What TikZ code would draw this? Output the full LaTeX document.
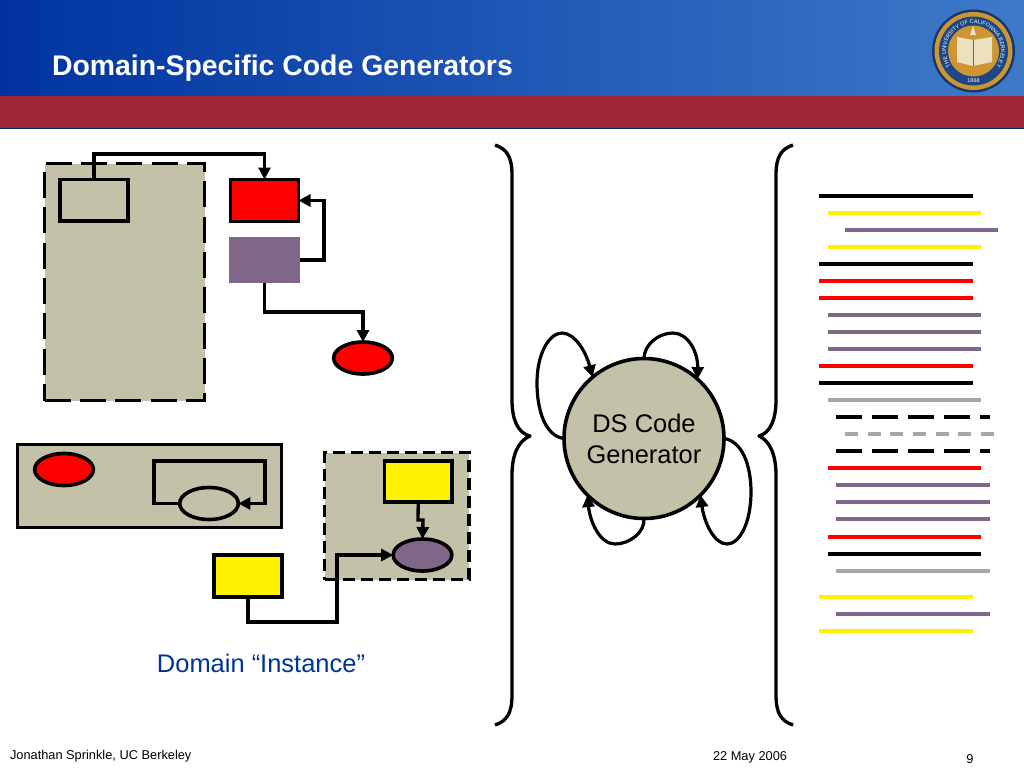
\documentclass[tikz,border=0pt]{standalone}
\usepackage{fontspec}
\setmainfont{Liberation Sans}
\usetikzlibrary{arrows.meta,shapes.geometric,decorations.text}
\definecolor{tanfill}{RGB}{195,193,168}
\definecolor{plum}{RGB}{128,102,136}
\definecolor{linegray}{RGB}{166,166,166}
\definecolor{bardark}{RGB}{160,38,56}
\definecolor{headL}{RGB}{0,51,160}
\definecolor{headR}{RGB}{62,122,200}
\definecolor{titleblue}{RGB}{0,51,153}
\definecolor{sealgold}{RGB}{205,150,50}
\definecolor{sealblue}{RGB}{30,70,130}
\definecolor{sealbook}{RGB}{235,225,190}
\tikzset{
  x=0.75pt,y=-0.75pt,
  every node/.style={inner sep=0pt,outer sep=0pt},
  stroke/.style={draw=black,line width=2.7pt},
  tanbox/.style={stroke,fill=tanfill},
  redbox/.style={stroke,fill=red},
  yellowbox/.style={stroke,fill=yellow},
  plainplum/.style={fill=plum},
  longdash/.style={dash pattern=on 19.5pt off 7pt},
  shortdash/.style={dash pattern=on 9pt off 4.5pt},
  oval/.style={ellipse,stroke,minimum width=44pt,minimum height=24pt},
  conn/.style={draw=black,line width=2.5pt,-{Triangle[length=9pt,width=9pt]}},
  loopconn/.style={draw=black,line width=2.4pt,-{Triangle[length=9pt,width=9pt]}},
  brace/.style={draw=black,line width=2.5pt,line join=round},
  listline/.style={line width=2.5pt},
  biglabel/.style={font=\fontsize{19.1}{23.2}\selectfont},
  footer/.style={font=\fontsize{9.6}{12}\selectfont,text=black},
}
\newcommand{\pxbox}[6]{\node[#6,minimum width={(#4-#2)*0.75pt},minimum height={(#5-#3)*0.75pt}] (#1) at ({(#2+#4)/2},{(#3+#5)/2}) {};}
\begin{document}
\begin{tikzpicture}
\useasboundingbox (0,0) rectangle (1024,768);
\fill[white] (0,0) rectangle (1024,768);
% header
\shade[left color=headL,right color=headR] (0,0) rectangle (1024,96);
\fill[bardark] (0,96) rectangle (1024,128);
\fill[titleblue!70!black] (0,128) rectangle (1024,129);
\node[anchor=west,text=white,font=\fontsize{21.3}{25}\bfseries\selectfont] (title) at (52,68) {Domain-Specific Code Generators};
% seal
\fill[sealblue!80!black] (973.5,51) circle (41.5);
\fill[sealgold] (973.5,51) circle (39);
\fill[sealblue] (973.5,51) circle (34.5);
\fill[sealgold] (973.5,51) circle (25.5);
\fill[sealbook] (957,37) -- (973,40) -- (992,37) -- (992,62) -- (973,66) -- (957,62) -- cycle;
\draw[sealgold!70!black,line width=.4pt] (973,40) -- (973,66);
\fill[sealbook] (973,26) -- (976,35) -- (970,35) -- cycle;
\path[decorate,decoration={text along path,text align=center,
  text={|\fontsize{4.1}{5}\selectfont\color{white}|THE UNIVERSITY OF CALIFORNIA BERKELEY}}]
  (973.5,51) ++(145:27.5) arc[start angle=145,end angle=395,radius=27.5];
\node[font=\fontsize{4.1}{5}\selectfont,text=white] (sealyear) at (973.5,81) {1868};
% upper-left group
\pxbox{outer}{44.5}{163.5}{204.5}{400.5}{tanbox,longdash}
\pxbox{inner}{60}{179.5}{128}{221}{tanbox}
\pxbox{rtop}{230.5}{179.5}{298.5}{221.5}{redbox}
\pxbox{ptop}{229}{237}{300}{283}{plainplum}
\node[oval,fill=red] (etop) at (363,358) {};
\coordinate (b1) at (94,154);
\coordinate (b2) at (324,230);
\coordinate (b3) at (300,312);
\draw[conn] (inner.north) -- (b1) -| (rtop.north);
\draw[conn] (ptop.east) -| (b2) |- (rtop.east);
\draw[conn] (ptop.south) |- (b3) -| (etop.north);
% panel
\pxbox{panel}{17.5}{444.5}{281.5}{527.5}{tanbox}
\node[oval,fill=red] (epanel) at (64,469.5) {};
\node[oval,fill=tanfill] (eloop) at (209,503.5) {};
\coordinate (l1) at (154,461);
\coordinate (l2) at (265,461);
\draw[conn] (eloop.west) -| (l1) -- (l2) |- (eloop.east);
% dashed group
\pxbox{dbox}{324.5}{452.5}{469}{579.5}{tanbox,shortdash}
\pxbox{yin}{384.5}{461}{452}{502}{yellowbox}
\node[oval,fill=plum] (epur) at (422.5,555) {};
\pxbox{yout}{214}{555}{282}{597}{yellowbox}
\coordinate (j1) at (418,520);
\coordinate (j2) at (423,520);
\coordinate (c1) at (248,622);
\coordinate (c2) at (337,622);
\coordinate (c3) at (337,555);
\draw[conn] (yin.south) -- (j1) -- (j2) -- (epur.north);
\draw[conn] (yout.south) -- (c1) -- (c2) -- (c3) -- (epur.west);
\node[biglabel,text=titleblue] (domlabel) at (261,663) {Domain “Instance”};
% braces
\coordinate (lbt) at (530,436);
\coordinate (rbt) at (759,436);
\draw[brace] (495,145) .. controls (507,149) and (512,157) .. (512,175) -- (512,400) .. controls (512,420) and (518,433) .. (lbt) .. controls (518,441) and (512,455) .. (512,475) -- (512,695) .. controls (512,713) and (507,721) .. (495,725);
\draw[brace] (793,145) .. controls (781,149) and (776,157) .. (776,175) -- (776,400) .. controls (776,420) and (770,433) .. (rbt) .. controls (770,441) and (776,455) .. (776,475) -- (776,695) .. controls (776,713) and (781,721) .. (793,725);
% generator
\node[circle,stroke,fill=tanfill,minimum size=120pt,biglabel,align=center] (gen) at (644,438.5) {DS Code\\Generator};
\draw[loopconn] (gen.180) .. controls (545,436) and (537,410) .. (537,383) .. controls (537,352) and (550,333) .. (562,333) .. controls (575,333) and (586,352) .. (gen.130);
\draw[loopconn] (gen.90) .. controls (644,345) and (658,333) .. (673,333) .. controls (688,333) and (698,352) .. (gen.48);
\draw[loopconn] (gen.0) .. controls (742,441) and (751,465) .. (751,492) .. controls (751,522) and (740,544) .. (727,544) .. controls (714,544) and (704,522) .. (gen.-45);
\draw[loopconn] (gen.-90) .. controls (645,532) and (630,544) .. (615,544) .. controls (600,544) and (590,522) .. (gen.-135);
% text-line listing
\foreach \x/\xx/\y/\c in {819/973/196/black,828/981/213/yellow,845/998/230/plum,828/981/247/yellow,819/973/264/black,819/973/281/red,819/973/298/red,828/981/315/plum,828/981/332/plum,828/981/349/plum,819/973/366/red,819/973/383/black,828/981/400/linegray,828/981/468/red,836/990/485/plum,836/990/502/plum,836/990/519/plum,828/981/537/red,828/981/554/black,836/990/571/linegray,819/973/597/yellow,836/990/614/plum,819/973/631/yellow}
  \draw[listline,draw=\c] (\x,\y) -- (\xx,\y);
\draw[listline,draw=black,dash pattern=on 19.5pt off 7.5pt] (836,417) -- (990,417);
\draw[listline,draw=linegray,dash pattern=on 9.75pt off 7.25pt] (845,434) -- (994,434);
\draw[listline,draw=black,dash pattern=on 19.5pt off 7.5pt] (836,451) -- (990,451);
% footer
\node[footer,anchor=west] (f1) at (10,756) {Jonathan Sprinkle, UC Berkeley};
\node[footer,anchor=west] (f2) at (713,757) {22 May 2006};
\node[footer,anchor=center] (f3) at (970,759) {9};
\end{tikzpicture}
\end{document}
